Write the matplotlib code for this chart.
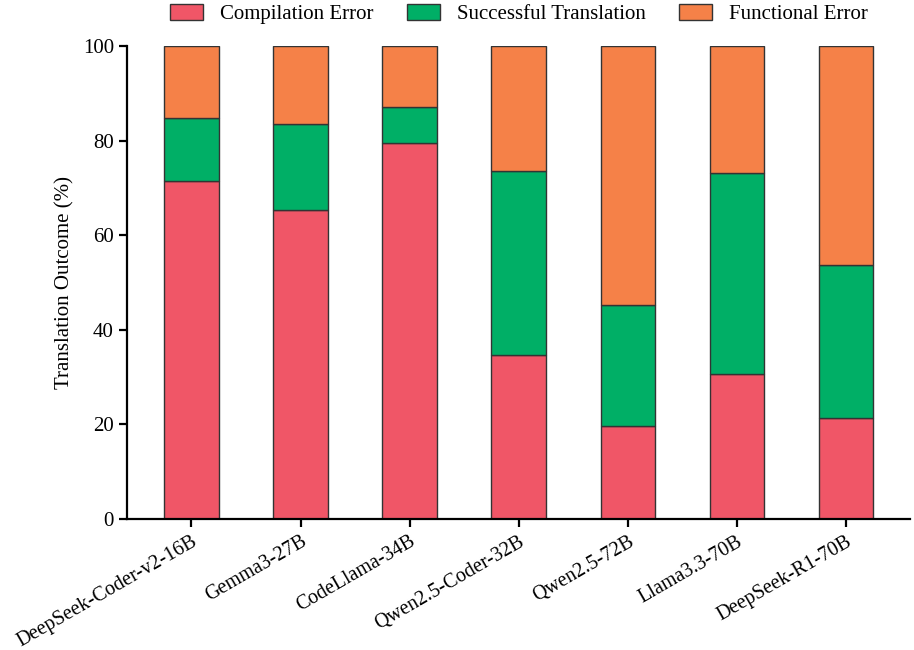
import matplotlib
matplotlib.use("Agg")
import matplotlib.pyplot as plt
import numpy as np

models = ["DeepSeek-Coder-v2-16B", "Gemma3-27B", "CodeLlama-34B", "Qwen2.5-Coder-32B",
          "Qwen2.5-72B", "Llama3.3-70B", "DeepSeek-R1-70B"]
compilation = [71.5, 65.3, 79.5, 34.7, 19.7, 30.7, 21.4]
success = [13.3, 18.2, 7.6, 38.9, 25.5, 42.5, 32.3]
functional = [100 - c - s for c, s in zip(compilation, success)]

plt.rcParams['font.family'] = ['Liberation Serif', 'DejaVu Serif']

fig = plt.figure(figsize=(9.14, 6.5), dpi=100)
ax = fig.add_axes([0.139, 0.2015, 0.857, 0.7275])

x = np.arange(len(models))
w = 0.5
ec = '#333333'
c1, c2, c3 = '#F05667', '#00AF66', '#F58148'
ax.bar(x, compilation, w, color=c1, edgecolor=ec, linewidth=1, label='Compilation Error')
ax.bar(x, success, w, bottom=compilation, color=c2, edgecolor=ec, linewidth=1, label='Successful Translation')
bot = [a + b for a, b in zip(compilation, success)]
ax.bar(x, functional, w, bottom=bot, color=c3, edgecolor=ec, linewidth=1, label='Functional Error')

ax.set_xlim(-0.59, len(models) - 1 + 0.59)
ax.set_ylim(0, 100)
ax.set_yticks([0, 20, 40, 60, 80, 100])
ax.set_xticks(x)
ax.set_xticklabels(models, rotation=30, ha='right', rotation_mode='anchor', fontsize=14.5)
ax.tick_params(axis='y', labelsize=15, width=1.6, length=6)
ax.tick_params(axis='x', width=1.6, length=6)
for s in ['top', 'right']:
    ax.spines[s].set_visible(False)
for s in ['left', 'bottom']:
    ax.spines[s].set_linewidth(1.6)
ax.set_ylabel('Translation Outcome (%)', fontsize=15, labelpad=6)

ax.legend(loc='lower center', bbox_to_anchor=(0.5, 1.015), ncol=3, frameon=False,
          fontsize=15, handlelength=1.6, handleheight=0.8, handletextpad=0.8,
          columnspacing=1.6, borderaxespad=0.3)

fig.savefig('out.png', dpi=100)
